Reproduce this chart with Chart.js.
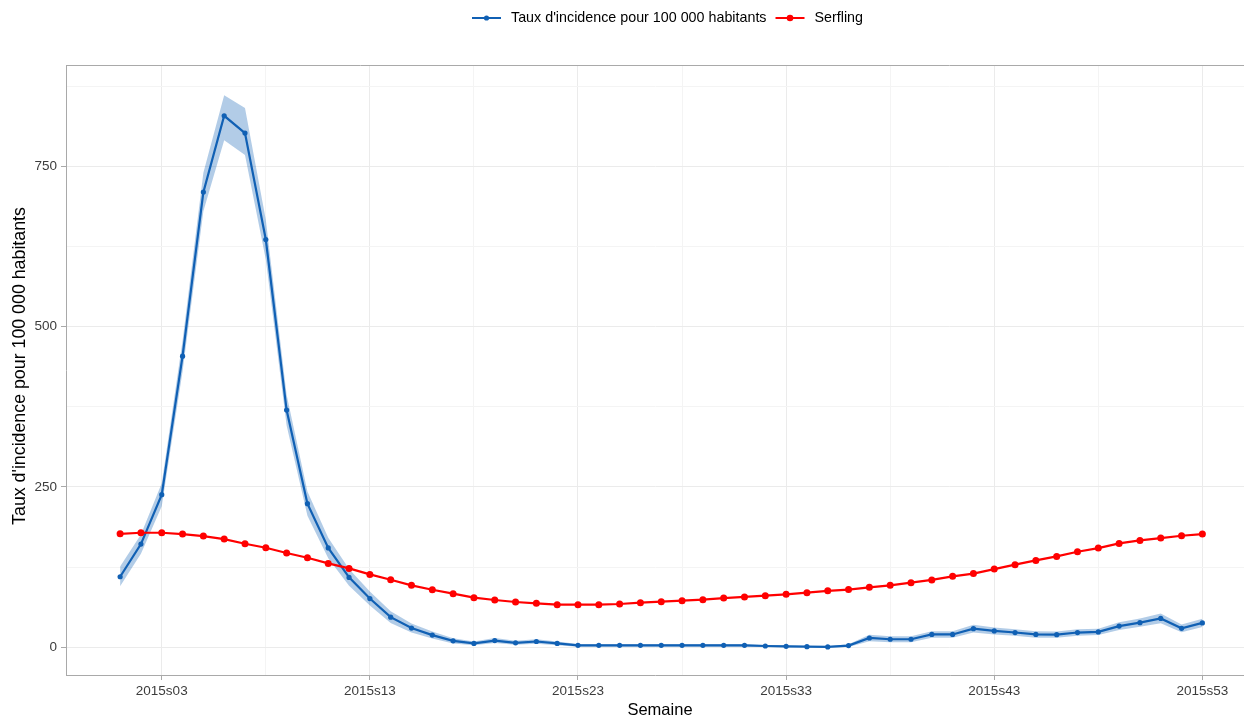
<!DOCTYPE html>
<html lang="fr">
<head>
<meta charset="utf-8">
<title>Taux d'incidence hebdomadaire 2015</title>
<script src="https://cdn.jsdelivr.net/npm/chart.js@4.4.1/dist/chart.umd.min.js"></script>
<style>
  html, body { margin: 0; padding: 0; background: #ffffff; overflow: hidden; }
  #wrap { position: relative; width: 1244px; height: 717px; }
</style>
</head>
<body>
<div id="wrap"><canvas id="chart" width="1244" height="717"></canvas></div>
<script>
// Semaines 2015s01 .. 2015s53
const weeks = [1,2,3,4,5,6,7,8,9,10,11,12,13,14,15,16,17,18,19,20,21,22,23,24,25,26,27,
  28,29,30,31,32,33,34,35,36,37,38,39,40,41,42,43,44,45,46,47,48,49,50,51,52,53];

// Taux d'incidence pour 100 000 habitants
const incidence = [110,161,238,454,710,829,802,636,370,224,155,109,76,47,30,19,10,6,10.5,7,9,6,
  3,3,3,3,3,3,3,3,3,2,1.5,1,0.5,2.6,14.5,12.5,12.5,20,20,29,25.5,23,20,19.7,23,24,33,38.4,45,29.6,38];

// Intervalle de confiance (bornes inférieure et supérieure)
const incidenceLow = [95,146,220,430,680,791,768,605,346,205,139,96,65,38,23,13.5,6,3,6.5,4,5.5,3,
  1,1,1,1,1,1,1,1,1,0.5,0,0,0,0.5,9.5,8,8,15,15,23,20,18,15,15,18,19,27,32,37.5,23.5,31.5];
const incidenceHigh = [126,176,256,478,740,861,841,667,394,243,171,122,87,56,37,24.5,14,9,14.5,10,12.5,9,
  5,5,5,5,5,5,5,5,5,3.5,3,2,1.5,4.7,19.5,17,17,25,25,35,31,28,25,24.5,28,29,39,45,52.5,35.7,44.5];

// Seuil épidémique (modèle de Serfling)
const serfling = [177,178.6,178.6,176.5,173.4,168.7,161.5,155.3,147,139.7,130.8,123,113.7,105.4,96.6,
  89.8,83.6,77.4,73.7,70.6,68.5,66.5,66.5,66.5,67.5,69.6,71.2,72.7,74.3,76.8,78.5,80.5,82.6,85.2,88,90,
  93.5,96.6,100.7,105,110.6,115,122,128.8,135.5,141.7,149,154.7,162,166.7,170.3,174,176.5];

// Graduations
const xMajorTicks = [3,13,23,33,43,53];
const xMinorTicks = [8,18,28,38,48];
const yMajorTicks = [0,250,500,750];
const yMinorTicks = [125,375,625,875];

const seriesLabels = ["Taux d'incidence pour 100 000 habitants", "Serfling"];
const xTitle = "Semaine";
const yTitle = "Taux d'incidence pour 100 000 habitants";

const BLUE = '#1060b4';
const RED = '#ff0000';
const BAND = 'rgba(16, 96, 180, 0.32)';
const FONT = "'Liberation Sans', Arial, sans-serif";

const weekLabel = w => '2015s' + String(w).padStart(2, '0');
const pts = arr => weeks.map((w, i) => ({ x: w, y: arr[i] }));

// Légende, titres d'axes et bordure supérieure du panneau
const decorations = {
  id: 'decorations',
  afterDraw(chart) {
    const { ctx, chartArea } = chart;
    ctx.save();
    // bordure haute
    ctx.strokeStyle = '#a9a9a9';
    ctx.lineWidth = 1;
    ctx.beginPath();
    ctx.moveTo(chartArea.left, chartArea.top + 0.5);
    ctx.lineTo(chartArea.right, chartArea.top + 0.5);
    ctx.stroke();

    // titres des axes
    ctx.fillStyle = '#000000';
    ctx.font = '16.5px ' + FONT;
    ctx.textAlign = 'center';
    ctx.textBaseline = 'middle';
    ctx.fillText(xTitle, 660, 710);
    ctx.save();
    ctx.translate(20, 366);
    ctx.rotate(-Math.PI / 2);
    ctx.font = '17.8px ' + FONT;
    ctx.fillText(yTitle, 0, 0);
    ctx.restore();

    // légende
    const items = [
      { label: chart.data.datasets[2].label, color: BLUE, r: 2.6 },
      { label: chart.data.datasets[3].label, color: RED, r: 3.3 }
    ];
    ctx.font = '14.3px ' + FONT;
    ctx.textAlign = 'left';
    const keyW = 29, gapKey = 10, gapItem = 9;
    let total = 0;
    items.forEach((it, i) => {
      total += keyW + gapKey + ctx.measureText(it.label).width + (i < items.length - 1 ? gapItem : 0);
    });
    let x = 667.5 - total / 2;
    const y = 18;
    items.forEach(it => {
      ctx.strokeStyle = it.color;
      ctx.lineWidth = 2;
      ctx.beginPath();
      ctx.moveTo(x, y);
      ctx.lineTo(x + keyW, y);
      ctx.stroke();
      ctx.fillStyle = it.color;
      ctx.beginPath();
      ctx.arc(x + keyW / 2, y, it.r, 0, Math.PI * 2);
      ctx.fill();
      x += keyW + gapKey;
      ctx.fillStyle = '#000000';
      ctx.fillText(it.label, x, y + 0.5);
      x += ctx.measureText(it.label).width + gapItem;
    });
    ctx.restore();
  }
};

const isMajorX = v => xMajorTicks.includes(v);
const isMajorY = v => yMajorTicks.includes(v);

new Chart(document.getElementById('chart'), {
  type: 'line',
  data: {
    datasets: [
      { label: 'IC bas', data: pts(incidenceLow), borderWidth: 0, pointRadius: 0,
        borderColor: 'rgba(0,0,0,0)', fill: false, order: 3 },
      { label: 'IC haut', data: pts(incidenceHigh), borderWidth: 0, pointRadius: 0,
        borderColor: 'rgba(0,0,0,0)', backgroundColor: BAND, fill: '-1', order: 2 },
      { label: seriesLabels[0], data: pts(incidence), borderColor: BLUE, backgroundColor: BLUE,
        borderWidth: 2.2, pointRadius: 2.6, pointBorderWidth: 0, pointBackgroundColor: BLUE,
        fill: false, tension: 0, order: 1 },
      { label: seriesLabels[1], data: pts(serfling), borderColor: RED, backgroundColor: RED,
        borderWidth: 2.2, pointRadius: 3.5, pointBorderWidth: 0, pointBackgroundColor: RED,
        fill: false, tension: 0, order: 0 }
    ]
  },
  options: {
    responsive: false,
    animation: false,
    events: [],
    layout: { autoPadding: false, padding: { top: 65, left: 0, right: 0, bottom: 0 } },
    plugins: {
      legend: { display: false },
      tooltip: { enabled: false },
      filler: { propagate: false }
    },
    scales: {
      x: {
        type: 'linear',
        min: -1.6,
        max: 55,
        afterBuildTicks: s => {
          s.ticks = [...xMajorTicks, ...xMinorTicks].sort((a, b) => a - b).map(v => ({ value: v }));
        },
        afterFit: s => { s.height = 42; s.paddingLeft = 0; s.paddingRight = 0; },
        ticks: {
          autoSkip: false,
          maxRotation: 0,
          padding: 3,
          color: '#3c3c3c',
          font: { family: FONT, size: 13.5 },
          callback: v => isMajorX(v) ? weekLabel(v) : ''
        },
        grid: {
          color: c => isMajorX(c.tick.value) ? '#ebebeb' : '#f4f4f4',
          lineWidth: 1,
          tickColor: c => isMajorX(c.tick.value) ? '#a9a9a9' : 'rgba(0,0,0,0)',
          tickLength: 5,
          drawTicks: true
        },
        border: { display: true, color: '#a9a9a9', width: 1 }
      },
      y: {
        type: 'linear',
        min: -43.25,
        max: 908.25,
        afterBuildTicks: s => {
          s.ticks = [...yMajorTicks, ...yMinorTicks].sort((a, b) => a - b).map(v => ({ value: v }));
        },
        afterFit: s => { s.width = 66; s.paddingTop = 0; s.paddingBottom = 0; },
        ticks: {
          autoSkip: false,
          padding: 4,
          color: '#3c3c3c',
          font: { family: FONT, size: 13.5 },
          callback: v => isMajorY(v) ? String(v) : ''
        },
        grid: {
          color: c => isMajorY(c.tick.value) ? '#ebebeb' : '#f4f4f4',
          lineWidth: 1,
          tickColor: c => isMajorY(c.tick.value) ? '#a9a9a9' : 'rgba(0,0,0,0)',
          tickLength: 5
        },
        border: { display: true, color: '#a9a9a9', width: 1 }
      }
    }
  },
  plugins: [decorations]
});
</script>
</body>
</html>
